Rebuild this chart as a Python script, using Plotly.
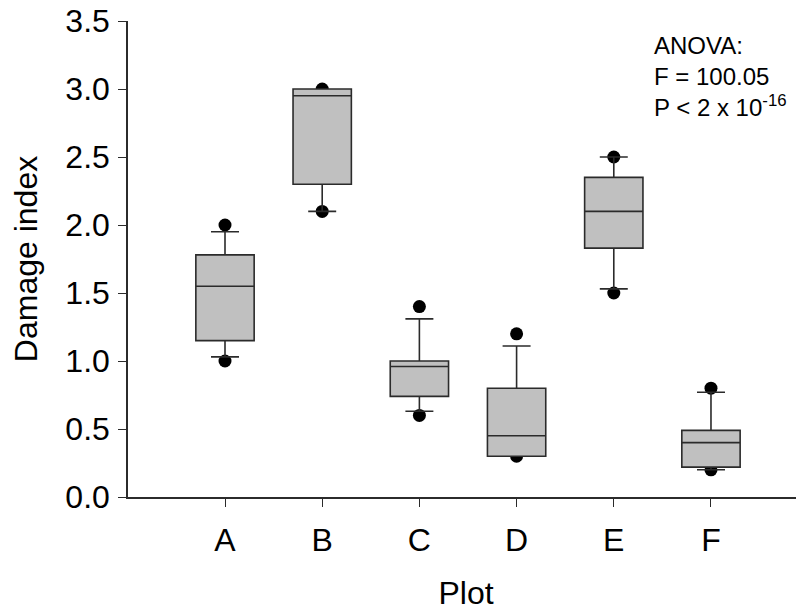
import plotly.graph_objects as go

categories = ["A", "B", "C", "D", "E", "F"]
q1 = [1.15, 2.30, 0.74, 0.30, 1.83, 0.22]
median = [1.55, 2.95, 0.96, 0.45, 2.10, 0.40]
q3 = [1.78, 3.00, 1.00, 0.80, 2.35, 0.49]
lower_whisker = [1.03, 2.10, 0.63, 0.30, 1.53, 0.20]
upper_whisker = [1.95, 3.00, 1.31, 1.11, 2.50, 0.77]
min_points = [1.00, 2.10, 0.60, 0.30, 1.50, 0.20]
max_points = [2.00, 3.00, 1.40, 1.20, 2.50, 0.80]

yticks = [0.0, 0.5, 1.0, 1.5, 2.0, 2.5, 3.0, 3.5]
ytick_labels = ["0.0", "0.5", "1.0", "1.5", "2.0", "2.5", "3.0", "3.5"]

FONT = "Liberation Sans, Arial, sans-serif"
LINE = "#2b2b2b"

fig = go.Figure()

# outlier dots (drawn underneath the boxes)
fig.add_trace(go.Scatter(
    x=categories + categories,
    y=max_points + min_points,
    mode="markers",
    marker=dict(color="black", size=13, line=dict(width=0)),
    xaxis="x", yaxis="y",
    hoverinfo="skip",
    showlegend=False,
))

fig.add_trace(go.Box(
    x=categories,
    q1=q1, median=median, q3=q3,
    lowerfence=lower_whisker, upperfence=upper_whisker,
    fillcolor="#c0c0c0",
    line=dict(color=LINE, width=1.6),
    width=0.6,
    whiskerwidth=0.48,
    boxpoints=False,
    xaxis="x2", yaxis="y2",
    showlegend=False,
))

xrange = [-0.998, 5.957]
yrange = [0, 3.5]

# the page body adds an 8px offset, so the figure is sized to fit the window
fig.update_layout(
    width=796, height=603,
    margin=dict(l=120, r=0, t=13, b=114),
    paper_bgcolor="white", plot_bgcolor="white",
    font=dict(family=FONT, color="black"),
    xaxis=dict(
        type="category", categoryorder="array", categoryarray=categories,
        range=xrange, automargin=False,
        showgrid=False, zeroline=False,
        showline=True, linecolor=LINE, linewidth=1.5,
        ticks="outside", ticklen=8, tickwidth=1.3, tickcolor=LINE,
        tickfont=dict(size=32, family=FONT, color="black"),
        ticklabelstandoff=6, ticklabeloverflow="allow",
        title=dict(text="Plot", font=dict(size=32, family=FONT, color="black"), standoff=26),
    ),
    yaxis=dict(
        range=yrange, automargin=False,
        tickvals=yticks, ticktext=ytick_labels,
        showgrid=False, zeroline=False,
        showline=True, linecolor=LINE, linewidth=1.5,
        ticks="outside", ticklen=8, tickwidth=1.3, tickcolor=LINE,
        tickfont=dict(size=32, family=FONT, color="black"),
        ticklabelstandoff=2, ticklabeloverflow="allow",
        title=dict(text="Damage index", font=dict(size=32, family=FONT, color="black"), standoff=22),
    ),
    xaxis2=dict(
        type="category", categoryorder="array", categoryarray=categories,
        range=xrange, overlaying="x", visible=False, automargin=False,
    ),
    yaxis2=dict(range=yrange, overlaying="y", visible=False, automargin=False),
    annotations=[dict(
        xref="paper", yref="paper", x=0.775, y=0.981,
        xanchor="left", yanchor="top", align="left",
        showarrow=False,
        text="ANOVA:<br>F = 100.05<br>P < 2 x 10<sup>-16</sup>",
        font=dict(size=24, family=FONT, color="black"),
    )],
)

fig.write_html("out.html")
